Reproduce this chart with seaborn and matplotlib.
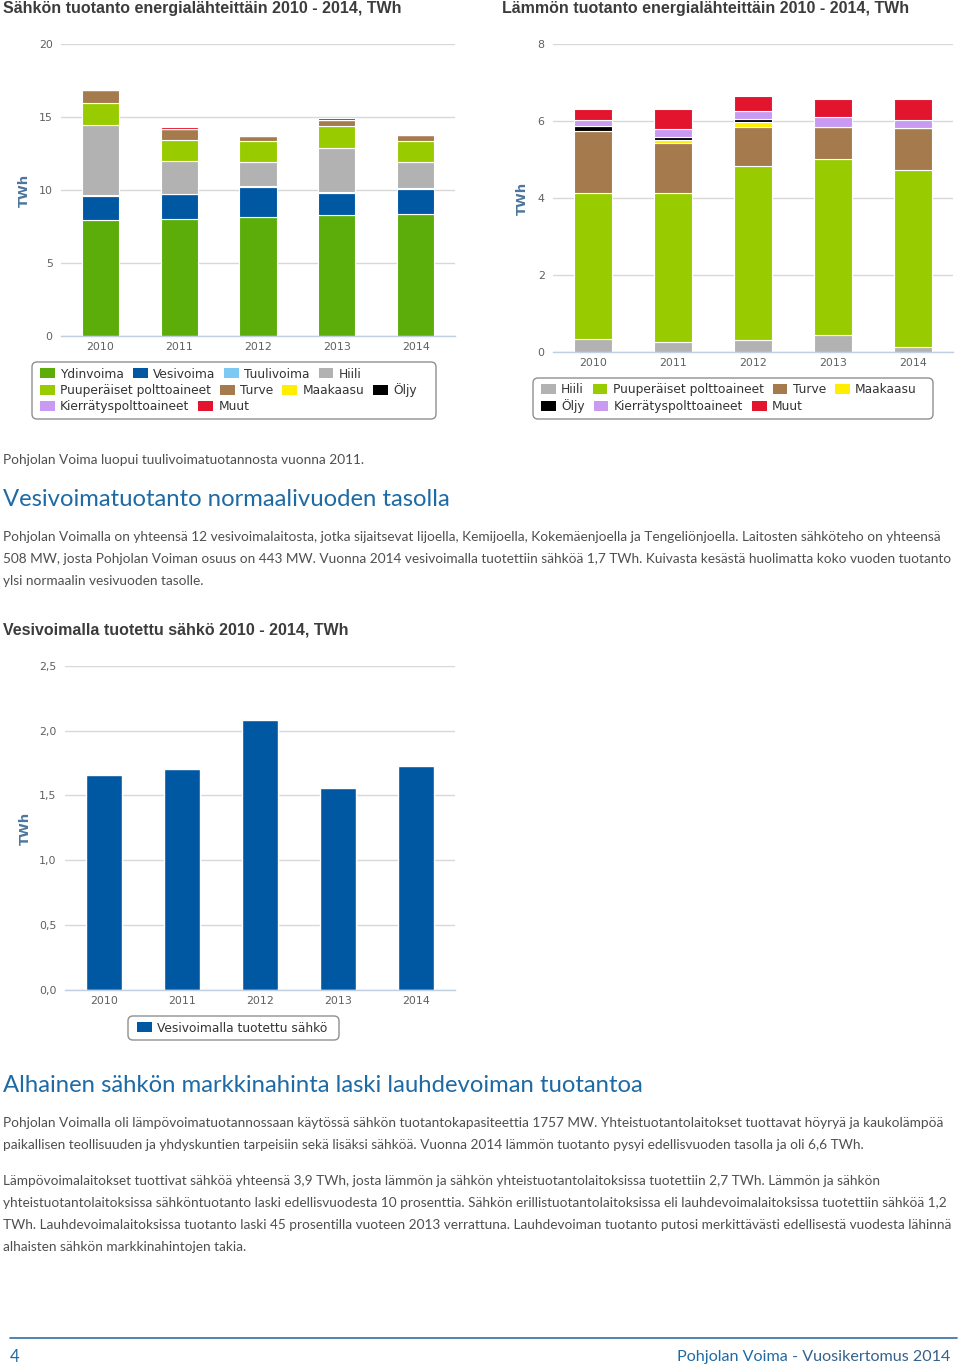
import numpy as np
import pandas as pd
import matplotlib
matplotlib.use("Agg")
import matplotlib.pyplot as plt
import seaborn as sns
from matplotlib.patches import Patch, FancyBboxPatch
from matplotlib.lines import Line2D
from matplotlib.transforms import IdentityTransform

# ---------------- data ----------------
years = ["2010", "2011", "2012", "2013", "2014"]

# Sähkön tuotanto (TWh)
el_ydinvoima = [7.95, 8.01, 8.13, 8.26, 8.36]
el_vesivoima = [1.66, 1.70, 2.08, 1.56, 1.73]
el_tuulivoima = [0.05, 0.03, 0.05, 0.05, 0.04]
el_hiili = [4.81, 2.25, 1.64, 3.01, 1.81]
el_puuperaiset = [1.47, 1.43, 1.43, 1.50, 1.39]
el_turve = [0.89, 0.74, 0.39, 0.39, 0.46]
el_maakaasu = [0.0, 0.0, 0.0, 0.0, 0.0]
el_oljy = [0.0, 0.0, 0.0, 0.0, 0.0]
el_kierratys = [0.0, 0.0, 0.0, 0.0, 0.0]
el_muut = [0.0, 0.15, 0.0, 0.14, 0.0]

# Lämmön tuotanto (TWh)
ht_hiili = [0.34, 0.26, 0.31, 0.45, 0.12]
ht_puuperaiset = [3.79, 3.87, 4.51, 4.57, 4.61]
ht_turve = [1.61, 1.29, 1.02, 0.82, 1.08]
ht_maakaasu = [0.0, 0.09, 0.14, 0.0, 0.0]
ht_oljy = [0.12, 0.07, 0.06, 0.0, 0.0]
ht_kierratys = [0.17, 0.21, 0.22, 0.26, 0.22]
ht_muut = [0.28, 0.52, 0.40, 0.47, 0.54]

# Vesivoimalla tuotettu sähkö (TWh)
hydro = [1.66, 1.70, 2.08, 1.56, 1.73]

el_labels = ["Ydinvoima", "Vesivoima", "Tuulivoima", "Hiili", "Puuperäiset polttoaineet",
             "Turve", "Maakaasu", "Öljy", "Kierrätyspolttoaineet", "Muut"]
ht_labels = ["Hiili", "Puuperäiset polttoaineet", "Turve", "Maakaasu", "Öljy",
             "Kierrätyspolttoaineet", "Muut"]
hydro_label = "Vesivoimalla tuotettu sähkö"

C = {
    "Ydinvoima": "#5CAD0A", "Vesivoima": "#0058A3", "Tuulivoima": "#7CC9F4",
    "Hiili": "#B2B2B2", "Puuperäiset polttoaineet": "#99CC00", "Turve": "#A57A4D",
    "Maakaasu": "#FFEE00", "Öljy": "#000000", "Kierrätyspolttoaineet": "#C99AF2",
    "Muut": "#E3142D",
}

# ---------------- figure ----------------
W, H = 960, 1371
fig = plt.figure(figsize=(W / 100, H / 100), dpi=100)
sns.set_style("white")
plt.rcParams["font.family"] = ["DejaVu Sans"]


def fx(px):
    return px / W


def fy(py):
    return 1 - py / H


def axes_px(x0, x1, ytop, ybot):
    return fig.add_axes([fx(x0), fy(ybot), fx(x1) - fx(x0), (ybot - ytop) / H])


TICK_COL = "#606060"
AX_COL = "#C0D0E0"
GRID_COL = "#D8D8D8"


def style(ax, ymax, step, fmt):
    ax.set_xlim(-0.5, 4.5)
    ax.set_ylim(0, ymax)
    ticks = np.arange(0, ymax + 1e-9, step)
    ax.set_yticks(ticks)
    ax.set_yticklabels([fmt(t) for t in ticks])
    ax.grid(axis="y", color=GRID_COL, lw=1)
    ax.grid(axis="x", visible=False)
    ax.set_axisbelow(True)
    for s in ["top", "right", "left"]:
        ax.spines[s].set_visible(False)
    ax.spines["bottom"].set_color(AX_COL)
    ax.spines["bottom"].set_linewidth(1)
    ax.tick_params(axis="y", length=0, pad=6, labelsize=7.9, labelcolor=TICK_COL)
    ax.tick_params(axis="x", which="major", length=0, pad=4, labelsize=7.9, labelcolor=TICK_COL)
    ax.set_xticks(np.arange(-0.5, 5, 1), minor=True)
    ax.tick_params(axis="x", which="minor", length=5, width=1, color=AX_COL)
    ax.set_xlabel("")
    ax.set_ylabel("")


def stacked(ax, series, labels):
    bottom = np.zeros(len(years))
    for vals, lab in zip(series, labels):
        df = pd.DataFrame({"vuosi": years, "TWh": vals})
        sns.barplot(data=df, x="vuosi", y="TWh", order=years, color=C[lab], saturation=1,
                    width=0.47, bottom=bottom.copy(), edgecolor="white", linewidth=0.8,
                    errorbar=None, ax=ax)
        bottom += np.asarray(vals, dtype=float)


def legend_rows(rows, x0, ys, fontsize=8.8):
    for items, y in zip(rows, ys):
        handles = [Patch(facecolor=C[k], edgecolor="none", label=k) for k in items]
        leg = fig.legend(handles=handles, loc="center left", bbox_to_anchor=(fx(x0), fy(y)),
                         ncol=len(items), frameon=False, fontsize=fontsize, borderpad=0,
                         borderaxespad=0, handlelength=1.2, handleheight=0.9,
                         handletextpad=0.45, columnspacing=0.72)
        for t in leg.get_texts():
            t.set_color("#333333")


def frame(x0, y0, x1, y1):
    p = FancyBboxPatch((x0, H - y1), x1 - x0, y1 - y0,
                       boxstyle="round,pad=0,rounding_size=5", transform=IdentityTransform(),
                       facecolor="none", edgecolor="#8F8F8F", lw=1.0)
    fig.patches.append(p)


TITLE_FONT = ["Liberation Sans", "DejaVu Sans"]
BODY_FONT = ["Lato", "DejaVu Sans"]
HEAD_COL = "#1E6AA5"
BODY_COL = "#4F4F4F"
YLAB_COL = "#4D759E"

# ---------- Chart 1: Sähkö ----------
ax1 = axes_px(61, 455, 44, 336)
stacked(ax1, [el_ydinvoima, el_vesivoima, el_tuulivoima, el_hiili, el_puuperaiset,
              el_turve, el_maakaasu, el_oljy, el_kierratys, el_muut], el_labels)
style(ax1, 20, 5, lambda v: f"{v:.0f}")
fig.text(fx(3), fy(9), "Sähkön tuotanto energialähteittäin 2010 - 2014, TWh",
         family=TITLE_FONT, weight="bold", fontsize=11.5, color="#3C3C3C", ha="left", va="center")
fig.text(fx(24), fy(190), "TWh", rotation=90, ha="center", va="center",
         fontsize=9.5, weight="bold", color=YLAB_COL)
frame(32, 362, 436, 419)
legend_rows([["Ydinvoima", "Vesivoima", "Tuulivoima", "Hiili"],
             ["Puuperäiset polttoaineet", "Turve", "Maakaasu", "Öljy"],
             ["Kierrätyspolttoaineet", "Muut"]], 40, [374, 390, 406.5])

# ---------- Chart 2: Lämpö ----------
ax2 = axes_px(553, 953, 44, 352)
stacked(ax2, [ht_hiili, ht_puuperaiset, ht_turve, ht_maakaasu, ht_oljy, ht_kierratys, ht_muut],
        ht_labels)
style(ax2, 8, 2, lambda v: f"{v:.0f}")
fig.text(fx(502), fy(9), "Lämmön tuotanto energialähteittäin 2010 - 2014, TWh",
         family=TITLE_FONT, weight="bold", fontsize=11.5, color="#3C3C3C", ha="left", va="center")
fig.text(fx(522), fy(198), "TWh", rotation=90, ha="center", va="center",
         fontsize=9.5, weight="bold", color=YLAB_COL)
frame(533, 378, 933, 419)
legend_rows([["Hiili", "Puuperäiset polttoaineet", "Turve", "Maakaasu"],
             ["Öljy", "Kierrätyspolttoaineet", "Muut"]], 541, [390, 406.5])

# ---------- Chart 3: Vesivoima ----------
ax3 = axes_px(65, 455, 665.7, 990)
df_h = pd.DataFrame({"vuosi": years, "TWh": hydro})
sns.barplot(data=df_h, x="vuosi", y="TWh", order=years, color=C["Vesivoima"], saturation=1,
            width=0.47, errorbar=None, ax=ax3)
style(ax3, 2.5, 0.5, lambda v: f"{v:.1f}".replace(".", ","))
fig.text(fx(3), fy(630), "Vesivoimalla tuotettu sähkö 2010 - 2014, TWh",
         family=TITLE_FONT, weight="bold", fontsize=11.5, color="#3C3C3C", ha="left", va="center")
fig.text(fx(25), fy(828), "TWh", rotation=90, ha="center", va="center",
         fontsize=9.5, weight="bold", color=YLAB_COL)
frame(128, 1016, 339, 1040)
C[hydro_label] = C["Vesivoima"]
legend_rows([[hydro_label]], 137, [1028])

# ---------- body text ----------
def body(y, s, size=9.85):
    fig.text(fx(3), fy(y), s, family=BODY_FONT, fontsize=size, color=BODY_COL,
             ha="left", va="center")


def heading(y, s):
    fig.text(fx(3), fy(y), s, family=BODY_FONT, weight="normal", fontsize=17.2,
             color=HEAD_COL, ha="left", va="center")


body(460, "Pohjolan Voima luopui tuulivoimatuotannosta vuonna 2011.")
heading(499, "Vesivoimatuotanto normaalivuoden tasolla")
body(537, "Pohjolan Voimalla on yhteensä 12 vesivoimalaitosta, jotka sijaitsevat Iijoella, Kemijoella, "
          "Kokemäenjoella ja Tengeliönjoella. Laitosten sähköteho on yhteensä")
body(559, "508 MW, josta Pohjolan Voiman osuus on 443 MW. Vuonna 2014 vesivoimalla tuotettiin sähköä "
          "1,7 TWh. Kuivasta kesästä huolimatta koko vuoden tuotanto")
body(581, "ylsi normaalin vesivuoden tasolle.")

heading(1085, "Alhainen sähkön markkinahinta laski lauhdevoiman tuotantoa")
body(1123, "Pohjolan Voimalla oli lämpövoimatuotannossaan käytössä sähkön tuotantokapasiteettia 1757 MW. "
           "Yhteistuotantolaitokset tuottavat höyryä ja kaukolämpöä")
body(1145, "paikallisen teollisuuden ja yhdyskuntien tarpeisiin sekä lisäksi sähköä. Vuonna 2014 lämmön "
           "tuotanto pysyi edellisvuoden tasolla ja oli 6,6 TWh.")
body(1181, "Lämpövoimalaitokset tuottivat sähköä yhteensä 3,9 TWh, josta lämmön ja sähkön "
           "yhteistuotantolaitoksissa tuotettiin 2,7 TWh. Lämmön ja sähkön")
body(1203, "yhteistuotantolaitoksissa sähköntuotanto laski edellisvuodesta 10 prosenttia. Sähkön "
           "erillistuotantolaitoksissa eli lauhdevoimalaitoksissa tuotettiin sähköä 1,2")
body(1225, "TWh. Lauhdevoimalaitoksissa tuotanto laski 45 prosentilla vuoteen 2013 verrattuna. "
           "Lauhdevoiman tuotanto putosi merkittävästi edellisestä vuodesta lähinnä")
body(1247, "alhaisten sähkön markkinahintojen takia.")

# ---------- footer ----------
fig.add_artist(Line2D([fx(10), fx(957)], [fy(1338), fy(1338)], color="#2F6FA3", lw=1.2))
fig.text(fx(10), fy(1357), "4", family=BODY_FONT, fontsize=12, color=HEAD_COL,
         ha="left", va="center")
t_right = fig.text(fx(950), fy(1357), " - Vuosikertomus 2014", family=BODY_FONT, fontsize=11.6,
                   color="#35618C", ha="right", va="center")
fig.canvas.draw()
bb = t_right.get_window_extent(renderer=fig.canvas.get_renderer())
fig.text(bb.x0 / W, fy(1357), "Pohjolan Voima", family=BODY_FONT, fontsize=11.6, color=HEAD_COL,
         ha="right", va="center")

fig.savefig("out.png", dpi=100)
